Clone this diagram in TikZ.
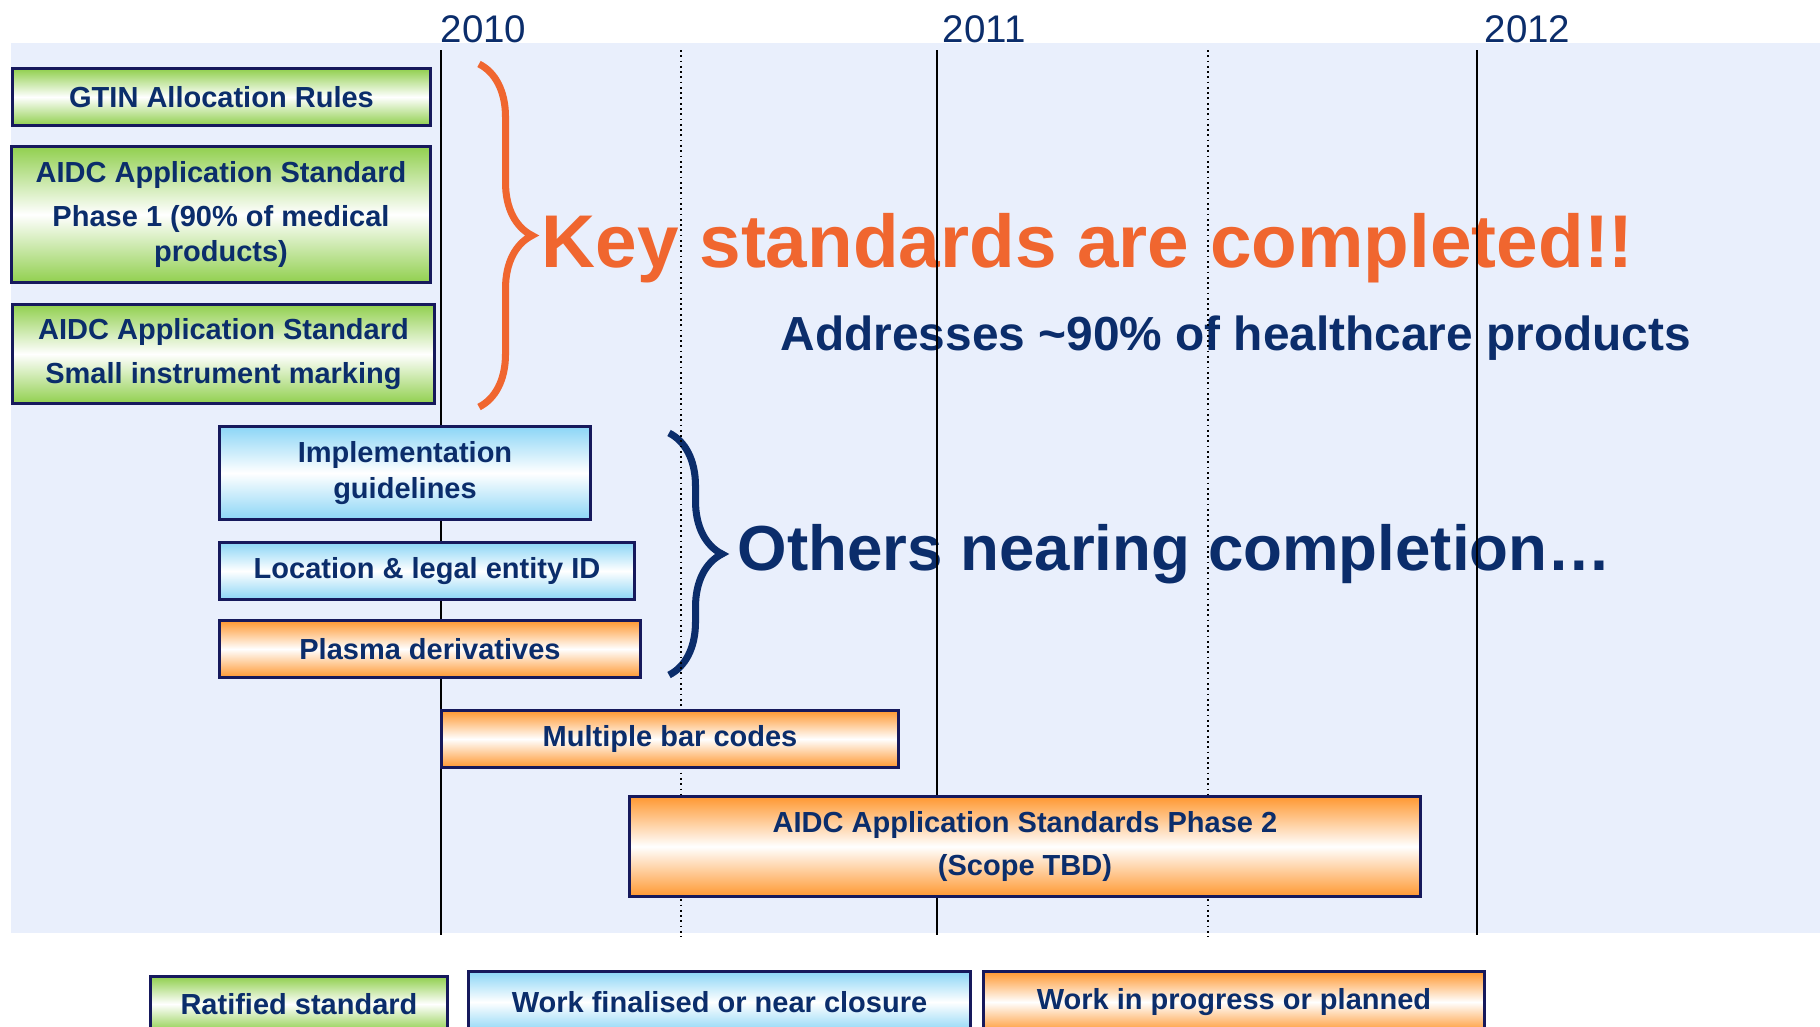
\documentclass[tikz,border=0pt]{standalone}
\usepackage{fontspec}
\setmainfont{Liberation Sans}
\usepackage{tikz}
\usetikzlibrary{decorations.pathreplacing}
\definecolor{navy}{HTML}{0B2D6B}
\definecolor{keyorange}{HTML}{F0662F}
\definecolor{panel}{HTML}{E9EFFC}
\definecolor{boxline}{HTML}{16195C}
\definecolor{ratgreen}{HTML}{92D050}
\definecolor{finblue}{HTML}{8DD6F6}
\definecolor{wiporange}{HTML}{FF9933}

\begin{document}
\begin{tikzpicture}[x=0.01cm, y=-0.01cm,
  bar/.style={draw=boxline, line width=0.85pt, inner sep=0pt, align=center, text=navy,
    font=\fontsize{8.25}{10}\selectfont\bfseries},
  ratified/.style={bar, top color=ratgreen, bottom color=ratgreen, middle color=white},
  finished/.style={bar, top color=finblue, bottom color=finblue, middle color=white},
  planned/.style={bar, top color=wiporange, bottom color=wiporange, middle color=white},
  year/.style={anchor=base west, inner sep=0pt, text=navy, font=\fontsize{10.95}{12}\selectfont},
  headline/.style={anchor=base west, inner sep=0pt, font=\bfseries}]
\clip (0,0) rectangle (1820,1027);
\fill[panel] (11,43) rectangle (1820,933);

% Headlines
\node[headline, text=keyorange, font=\fontsize{21.25}{25}\selectfont\bfseries] (keytxt) at (541,267) {Key standards are completed!!};
\node[headline, text=navy, font=\fontsize{13.6}{16}\selectfont\bfseries] (addr) at (780,350) {Addresses \textasciitilde 90\% of healthcare products};
\node[headline, text=navy, font=\fontsize{18.1}{22}\selectfont\bfseries] (others) at (737,570) {Others nearing completion…};

% Braces
\coordinate (K0) at (479,64);
\coordinate (K1) at (479,407);
\coordinate (N0) at (669,433);
\coordinate (N1) at (669,675);
\draw[keyorange, line width=2pt, decorate, decoration={brace, amplitude=0.53cm}] (K0) -- (K1);
\draw[navy, line width=2pt, decorate, decoration={brace, amplitude=0.53cm}] (N0) -- (N1);

% Time axis
\foreach \xl in {441,937,1477}{
  \draw[line width=0.6pt] (\xl,50) -- (\xl,935);
}
\foreach \xl in {681,1208}{
  \draw[densely dotted, line width=0.5pt] (\xl,50) -- (\xl,937);
}
\foreach \yr/\xp in {2010/440,2011/942,2012/1484}{
  \node[year] (y\yr) at (\xp,42) {\yr};
}

% Work items
\node[ratified, minimum width=4.17cm, minimum height=0.56cm] (gtin) at (221.5,97) {GTIN Allocation Rules};
\node[ratified, minimum width=4.18cm, minimum height=1.35cm] (aidc1) at (221,214.5) {AIDC Application Standard\\[2.3pt] Phase 1 (90\% of medical\\ products)};
\node[ratified, minimum width=4.21cm, minimum height=0.98cm] (small) at (223.5,354) {AIDC Application Standard\\[2.5pt] Small instrument marking};
\node[finished, minimum width=3.70cm, minimum height=0.92cm] (impl) at (405,473) {Implementation\\ guidelines};
\node[finished, minimum width=4.14cm, minimum height=0.56cm] (gln) at (427,571) {Location \& legal entity ID};
\node[planned, minimum width=4.20cm, minimum height=0.56cm] (plasma) at (430,649) {Plasma derivatives};
\node[planned, minimum width=4.56cm, minimum height=0.56cm] (multi) at (670,739) {Multiple bar codes};
\node[planned, minimum width=7.90cm, minimum height=0.99cm] (aidc2) at (1025,846.5) {AIDC Application Standards Phase 2\\[2.3pt] (Scope TBD)};

% Legend
\node[ratified, minimum width=2.96cm, minimum height=0.54cm] (legrat) at (299,1004) {Ratified standard};
\node[finished, minimum width=5.01cm, minimum height=0.60cm] (legfin) at (719.5,1002) {Work finalised or near closure};
\node[planned, minimum width=5.00cm, minimum height=0.60cm] (legwip) at (1234,1002) {Work in progress or planned};
\end{tikzpicture}
\end{document}
